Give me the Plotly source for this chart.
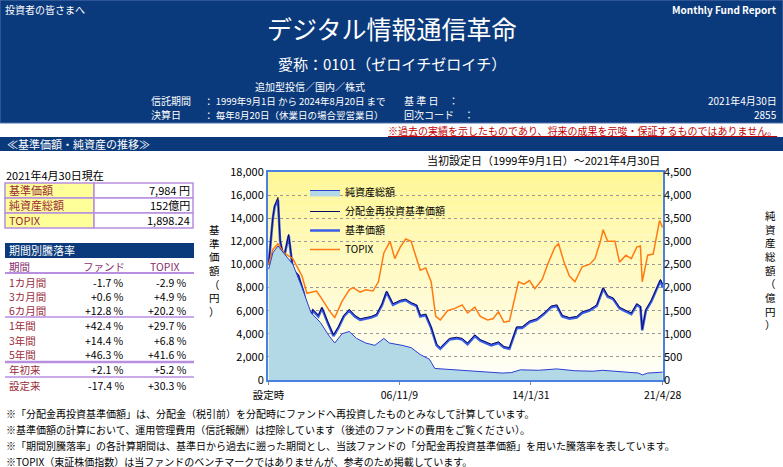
import plotly.graph_objects as go
import pandas as pd

W, H = 783, 467
def px(x): return x / W
def py(y): return 1 - y / H

# ---- data (year as decimal) ----
nav_t = [1999.67,1999.9,2000.0,2000.18,2000.3,2000.5,2000.77,2001.0,2001.3,2001.6,2001.9,2002.1,2002.4,2002.6,2002.9,
         2003.23,2003.5,2003.8,2004.1,2004.4,2004.7,2005.0,2005.3,2005.6,2005.9,2006.15,2006.5,2006.9,2007.2,2007.5,2007.8,
         2008.0,2008.3,2008.6,2008.9,2009.1,2009.3,2009.6,2010.0,2010.3,2010.6,2011.0,2011.3,2011.6,2011.9,2012.3,2012.6,2012.9,
         2013.3,2013.6,2014.0,2014.4,2014.8,2015.2,2015.5,2015.8,2016.2,2016.6,2016.9,2017.3,2017.7,2018.05,2018.3,2018.6,2018.95,
         2019.2,2019.6,2019.9,2020.1,2020.2,2020.4,2020.7,2021.0,2021.2,2021.32]
nav_v = [10000,14000,15000,15600,12000,10500,12500,9500,9000,7500,5000,6000,5500,6200,5000,
         3800,4500,5500,6000,5500,5200,5300,5400,5600,6500,7600,6500,6800,6900,6600,6400,
         5500,5600,4500,3000,2700,3000,3500,3600,3500,3100,3800,3400,3200,3000,3200,2800,2700,
         4500,4500,5000,5200,5700,6300,6400,5500,5300,5400,5800,6000,6400,7900,7200,7000,6200,
         6000,5700,6500,6300,4300,6000,6800,7800,8600,7984]
reinv_v = [10000,14100,15100,15800,12100,10600,12600,9600,9100,7600,5100,6100,5600,6300,5100,
           3900,4600,5600,6100,5600,5300,5400,5500,5700,6600,7700,6600,6900,7000,6700,6500,
           5600,5700,4600,3100,2800,3100,3600,3700,3600,3200,3900,3500,3300,3100,3300,2900,2800,
           4600,4600,5100,5300,5800,6400,6500,5600,5400,5500,5900,6100,6500,8000,7300,7100,6300,
           6100,5800,6600,6400,4400,6100,6900,7900,8700,8300]
tpx_t = [1999.67,1999.9,2000.18,2000.5,2001.0,2001.5,2001.77,2002.3,2002.6,2003.0,2003.3,2003.7,2004.1,2004.3,2004.7,
         2005.0,2005.4,2005.7,2006.0,2006.34,2006.6,2006.9,2007.2,2007.5,2007.8,2008.0,2008.3,2008.6,2008.85,2009.1,2009.5,
         2009.9,2010.3,2010.6,2011.0,2011.3,2011.7,2012.0,2012.3,2012.6,2012.9,2013.2,2013.4,2013.7,2014.0,2014.3,2014.7,
         2015.0,2015.4,2015.6,2015.9,2016.2,2016.5,2016.9,2017.3,2017.6,2017.9,2018.05,2018.3,2018.7,2018.95,2019.3,2019.6,
         2019.9,2020.1,2020.2,2020.5,2020.8,2021.0,2021.15,2021.32]
tpx_v = [10000,11300,11800,11000,10500,9000,7500,7700,7000,6000,5400,6800,7800,8000,7600,
         7800,7700,8500,11000,12000,10500,11500,12200,12000,10500,9500,9700,8500,5500,5200,6000,
         6200,6500,5800,6300,5500,5200,5300,5900,5000,5100,7000,8500,8300,8600,7900,8700,
         10000,11500,11800,10200,9000,8500,9800,10000,10500,12000,13000,12000,12000,10200,10800,10500,
         11500,11600,8500,10800,10900,12500,13800,13200]
na_t = [1999.67,1999.9,2000.18,2000.5,2001.0,2001.5,2002.0,2002.5,2003.0,2003.3,2003.7,2004.1,2004.5,2005.0,2005.5,
        2006.0,2006.3,2007.0,2007.5,2008.0,2008.5,2008.8,2009.5,2010.5,2011.5,2012.5,2013.0,2013.5,2014.5,2015.5,2016.5,
        2017.5,2018.0,2019.0,2020.0,2020.2,2020.5,2021.32]
na_v = [2400,2750,2900,2750,2500,2000,1450,1250,950,800,1000,1050,900,800,750,
        900,800,750,700,550,450,250,230,200,180,150,160,220,210,240,200,
        190,210,180,150,110,150,170]

def to_date(y):
    yr = int(y); frac = y - yr
    return pd.Timestamp(year=yr, month=1, day=1) + pd.Timedelta(days=frac * 365.25)

tick_vals = ["1999-09-01", "2006-11-09", "2014-01-31", "2021-04-28"]
tick_text = ["設定時", "06/11/9", "14/1/31", "21/4/28"]

NAVY = "#0b3a7c"
FONT = "Noto Sans CJK JP"

fig = go.Figure()
fig.add_trace(go.Scatter(x=[to_date(t) for t in na_t], y=na_v, yaxis="y2", name="純資産総額",
                         fill="tozeroy", fillcolor="#b4d9e6", line=dict(color="#2a3fd0", width=1), legendrank=1))
fig.add_trace(go.Scatter(x=[to_date(t) for t in nav_t], y=nav_v, name="基準価額",
                         line=dict(color="#3a5ee8", width=2.5), legendrank=3))
fig.add_trace(go.Scatter(x=[to_date(t) for t in nav_t], y=reinv_v, name="分配金再投資基準価額",
                         line=dict(color="#0a0a60", width=1), legendrank=2))
fig.add_trace(go.Scatter(x=[to_date(t) for t in tpx_t], y=tpx_v, name="TOPIX",
                         line=dict(color="#ff7a10", width=1.5), legendrank=4))

x0, x1, yt, yb = 268, 663, 172, 380
shapes = []
n = 30
for i in range(n):
    f = i / (n - 1)
    r, g, b = 255, 247 + int(8 * f), 150 + int(100 * f)
    shapes.append(dict(type="rect", xref="paper", yref="paper", layer="below", line=dict(width=0),
                       x0=px(x0), x1=px(x1), y0=py(yt + (yb - yt) * (i + 1) / n), y1=py(yt + (yb - yt) * i / n),
                       fillcolor=f"rgb({r},{g},{b})"))
shapes.append(dict(type="rect", xref="paper", yref="paper", x0=0, x1=1, y0=py(123), y1=1,
                   fillcolor=NAVY, line=dict(color="#5070b0", width=1)))
shapes.append(dict(type="rect", xref="paper", yref="paper", x0=0, x1=1, y0=py(151), y1=py(137),
                   fillcolor=NAVY, line=dict(width=0)))
purple = "#b88ee0"
for i in range(3):
    ya, yb2 = 183 + 15 * i, 198 + 15 * i
    shapes.append(dict(type="rect", xref="paper", yref="paper", x0=px(5), x1=px(94), y0=py(yb2), y1=py(ya),
                       fillcolor="#ffff99", line=dict(color=purple, width=1.5)))
    shapes.append(dict(type="rect", xref="paper", yref="paper", x0=px(94), x1=px(193), y0=py(yb2), y1=py(ya),
                       fillcolor="white", line=dict(color=purple, width=1.5)))
shapes.append(dict(type="rect", xref="paper", yref="paper", x0=px(5), x1=px(194), y0=py(258), y1=py(243),
                   fillcolor=NAVY, line=dict(width=0)))
for yy, w in [(273, 2), (317, 1.5), (362, 2.5), (377, 1.5)]:
    shapes.append(dict(type="line", xref="paper", yref="paper", x0=px(5), x1=px(194), y0=py(yy), y1=py(yy),
                       line=dict(color=purple, width=w)))

ann = []
def A(x, y, t, size=11, color="black", xa="left", **kw):
    ann.append(dict(x=px(x), y=py(y), xref="paper", yref="paper", text=t, showarrow=False,
                    xanchor=xa, yanchor="middle", borderpad=0,
                    font=dict(size=size, color=color, family=FONT), **kw))

A(4, 9, "投資者の皆さまへ", 10, "white")
A(778, 9, "<b>Monthly Fund Report</b>", 10, "white", "right")
A(392, 28, "デジタル情報通信革命", 25, "white", "center")
A(392, 63, "愛称：0101（ゼロイチゼロイチ）", 15, "white", "center")
A(310, 86, "追加型投信／国内／株式", 10, "white", "center")
A(150, 101, "信託期間", 10, "white"); A(203, 101, "： 1999年9月1日 から 2024年8月20日 まで", 9.5, "white")
A(150, 115, "決算日", 10, "white"); A(203, 115, "： 毎年8月20日（休業日の場合翌営業日）", 9.5, "white")
A(403, 101, "基 準 日　：", 10, "white"); A(778, 101, "2021年4月30日", 10, "white", "right")
A(403, 115, "回次コード　：", 10, "white"); A(778, 115, "2855", 10, "white", "right")
A(778, 130, "<u>※過去の実績を示したものであり、将来の成果を示唆・保証するものではありません。</u>", 10, "#c00000", "right")
A(6, 144, "≪基準価額・純資産の推移≫", 11, "white")
A(5, 175, "2021年4月30日現在", 11)
LBL = "#9b2c3c"
for i, (l, v) in enumerate([("基準価額", "7,984 円"), ("純資産総額", "152億円"), ("TOPIX", "1,898.24")]):
    A(8, 190 + 15 * i, l, 11, LBL); A(191, 190 + 15 * i, v, 11, "black", "right")
A(8, 250, "期間別騰落率", 11, "white")
HC = "#8a3070"
A(8, 266, "期間", 10.5, HC); A(104, 266, "ファンド", 10.5, HC, "center"); A(165, 266, "TOPIX", 10.5, HC, "center")
rows = [("1カ月間", "-1.7 %", "-2.9 %", 282), ("3カ月間", "+0.6 %", "+4.9 %", 296), ("6カ月間", "+12.8 %", "+20.2 %", 310),
        ("1年間", "+42.4 %", "+29.7 %", 325), ("3年間", "+14.4 %", "+6.8 %", 340), ("5年間", "+46.3 %", "+41.6 %", 354),
        ("年初来", "+2.1 %", "+5.2 %", 369), ("設定来", "-17.4 %", "+30.3 %", 385)]
for l, f, t, y in rows:
    A(8, y, l, 10.5, LBL); A(125, y, f, 10.5, "black", "right"); A(188, y, t, 10.5, "black", "right")
A(543, 160, "当初設定日（1999年9月1日）～2021年4月30日", 11, "black", "center")
A(214, 270, "<br>".join("基準価額（円）"), 10.5, "black", "center")
A(770, 270, "<br>".join("純資産総額（億円）"), 10.5, "black", "center")
notes = ["※「分配金再投資基準価額」は、分配金（税引前）を分配時にファンドへ再投資したものとみなして計算しています。",
         "※基準価額の計算において、運用管理費用（信託報酬）は控除しています（後述のファンドの費用をご覧ください）。",
         "※「期間別騰落率」の各計算期間は、基準日から過去に遡った期間とし、当該ファンドの「分配金再投資基準価額」を用いた騰落率を表しています。",
         "※TOPIX（東証株価指数）は当ファンドのベンチマークではありませんが、参考のため掲載しています。"]
for i, t in enumerate(notes):
    A(5, 413 + 16 * i, t, 10)

fig.update_layout(
    width=W, height=H, margin=dict(l=0, r=0, t=0, b=0), paper_bgcolor="white",
    plot_bgcolor="rgba(0,0,0,0)",
    font=dict(family=FONT, size=11, color="black"), shapes=shapes, annotations=ann,
    xaxis=dict(domain=[px(x0), px(x1)], type="date", range=["1999-08-20", "2021-05-05"], tickvals=tick_vals,
               ticktext=tick_text, showgrid=False, showline=True, linecolor="#4a80e0", linewidth=2, mirror=True,
               ticks="outside", ticklen=3, tickcolor="#888", tickfont=dict(size=10.5), automargin=False,
               ticklabelstandoff=1),
    yaxis=dict(domain=[py(yb), py(yt)], range=[0, 18000], dtick=2000, tickformat=",d", showgrid=True,
               gridcolor="#999", griddash="dot", showline=True, linecolor="#4a80e0", linewidth=2, mirror=True,
               zeroline=False, tickfont=dict(size=11), automargin=False),
    yaxis2=dict(overlaying="y", side="right", range=[0, 4500], dtick=500, tickformat=",d", showgrid=False,
                zeroline=False, tickfont=dict(size=11), automargin=False),
    legend=dict(x=px(305), y=py(178), xanchor="left", yanchor="top", bgcolor="rgba(0,0,0,0)",
                font=dict(size=10), tracegroupgap=0, itemwidth=30),
    showlegend=True,
)
fig.write_html("out.html", config={"responsive": False, "displayModeBar": False},
               post_script="document.body.style.margin='0';document.body.style.overflow='hidden';")
